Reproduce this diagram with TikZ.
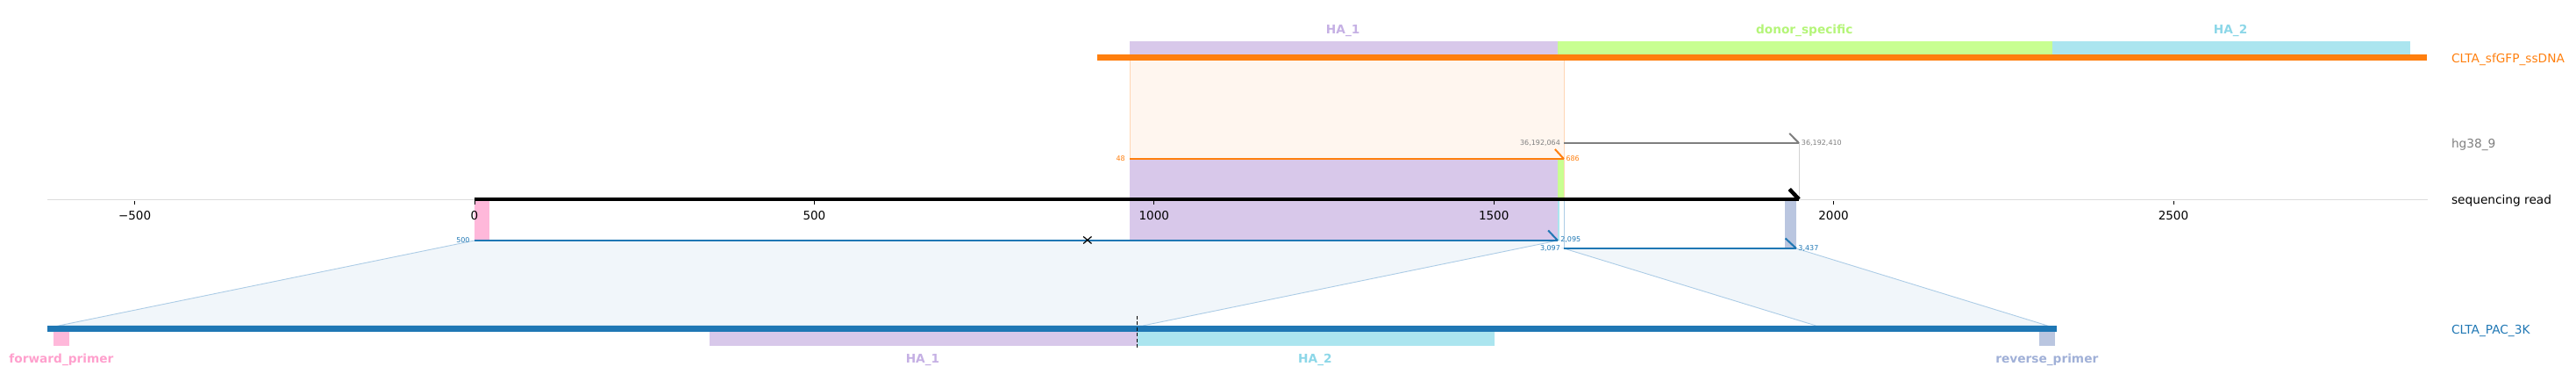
\documentclass[tikz,border=0pt]{standalone}
\usepackage{fontspec}
\setmainfont{DejaVu Sans}
\usetikzlibrary{positioning}
\definecolor{DonorOrange}{RGB}{255,127,14}
\definecolor{AmpBlue}{RGB}{31,119,180}
\definecolor{GenomeGray}{RGB}{127,127,127}
\definecolor{HAPurple}{RGB}{216,200,234}
\definecolor{HAPurpleText}{RGB}{197,176,228}
\definecolor{DonorGreen}{RGB}{200,255,145}
\definecolor{DonorGreenText}{RGB}{180,245,120}
\definecolor{HACyan}{RGB}{171,229,239}
\definecolor{HACyanText}{RGB}{140,215,232}
\definecolor{PrimerPink}{RGB}{255,184,218}
\definecolor{PrimerPinkText}{RGB}{255,160,205}
\definecolor{PrimerSlate}{RGB}{186,198,224}
\definecolor{PrimerSlateText}{RGB}{160,176,215}
\definecolor{SoftOrange}{RGB}{255,246,239}
\definecolor{EdgeOrange}{RGB}{255,214,180}
\definecolor{SoftBlue}{RGB}{241,246,250}
\definecolor{EdgeBlue}{RGB}{172,204,230}
\definecolor{AxisGray}{RGB}{220,220,220}

\begin{document}
\begin{tikzpicture}[x=0.7748pt,y=-1pt,
    ticklab/.style={font=\fontsize{13.5}{16}\selectfont,inner sep=0},
    tracklab/.style={font=\fontsize{13.7}{16}\selectfont,inner sep=0,anchor=west},
    featlab/.style={font=\bfseries\fontsize{13.7}{16}\selectfont,inner sep=0},
    coordlab/.style={font=\fontsize{8}{9}\selectfont,inner sep=0},
    hook/.style={line width=2pt}]
  \useasboundingbox (-698.3,0) rectangle (3092.5,442);
  % alignments of the amplicon onto the read
  \filldraw[fill=SoftBlue,draw=EdgeBlue,line width=0.9pt] (0,274)--(1594,274)--(983.5,371)--(-612,371)--cycle;
  \filldraw[fill=SoftBlue,draw=EdgeBlue,line width=0.9pt] (1603,283)--(1945,283)--(2314.8,371)--(1974,371)--cycle;
  \filldraw[fill=SoftOrange,draw=EdgeOrange,line width=0.8pt] (964,68) rectangle (1603,227);
  \fill[HAPurple] (964,181) rectangle (1594,274);
  \fill[DonorGreen] (1594,181) rectangle (1603,227);
  \fill[HACyan] (1594,227) rectangle (1597,274);
  \draw[EdgeBlue,line width=0.8pt] (1603,227)--(1603,283);
  \fill[PrimerPink] (0,229) rectangle (22,273);
  \fill[PrimerSlate] (1928,227) rectangle (1945,283);
  \draw[GenomeGray!35,line width=0.8pt] (1949,163)--(1949,227);
  % axis
  \draw[AxisGray,line width=0.8pt] (-628.5,227.5)--(2874,227.5);
  \foreach \t/\l [count=\i] in {-500/−500,0/0,500/500,1000/1000,1500/1500,2000/2000,2500/2500}{
    \draw[line width=0.8pt] (\t,229)--(\t,233.5);
    \node[ticklab] (tick\i) at (\t,245.5) {\l};
  }
  % donor track
  \fill[HAPurple] (964,47) rectangle (1594,62.3);
  \fill[DonorGreen] (1594,47) rectangle (2322,62.3);
  \fill[HACyan] (2322,47) rectangle (2848,62.3);
  \fill[DonorOrange] (916.4,62.3) rectangle (2873,68.7);
  \node[featlab,text=HAPurpleText] (ha1top) at (1278,35) {HA\_1};
  \node[featlab,text=DonorGreenText] (donortop) at (1957,35) {donor\_specific};
  \node[featlab,text=HACyanText] (ha2top) at (2584,35) {HA\_2};
  % read and mapped segments
  \draw[line width=4.5pt] (0,227)--(1949,227);
  \draw[line width=4.5pt] (1949,227)--++(-14,-11.5);
  \draw[GenomeGray,line width=2pt] (1603,163)--(1949,163);
  \draw[GenomeGray,hook] (1949,163)--++(-14,-11);
  \draw[DonorOrange,line width=2pt] (964,181)--(1603,181);
  \draw[DonorOrange,hook] (1603,181)--++(-13,-11);
  \draw[AmpBlue,line width=2pt] (0,274)--(1594,274);
  \draw[AmpBlue,hook] (1594,274)--++(-14,-11.5);
  \draw[AmpBlue,line width=2pt] (1603,283)--(1945,283);
  \draw[AmpBlue,hook] (1945,283)--++(-16,-11.5);
  \draw[line width=1.2pt] (896,269.5)--(908,277.5) (896,277.5)--(908,269.5);
  \node[coordlab,text=GenomeGray,anchor=east] (hgstart) at (1598,163) {36,192,064};
  \node[coordlab,text=GenomeGray,anchor=west] (hgend) at (1952.5,163) {36,192,410};
  \node[coordlab,text=DonorOrange,anchor=east] (ssstart) at (957.6,181) {48};
  \node[coordlab,text=DonorOrange,anchor=west] (ssend) at (1606,181) {686};
  \node[coordlab,text=AmpBlue,anchor=east] (ampstartA) at (-6.8,273.5) {500};
  \node[coordlab,text=AmpBlue,anchor=west] (ampendA) at (1598,273) {2,095};
  \node[coordlab,text=AmpBlue,anchor=east] (ampstartB) at (1598,283.5) {3,097};
  \node[coordlab,text=AmpBlue,anchor=west] (ampendB) at (1948,283.5) {3,437};
  % amplicon track
  \fill[AmpBlue] (-628.5,371) rectangle (2329,377.7);
  \fill[PrimerPink] (-619.5,377.7) rectangle (-595.9,393.7);
  \fill[HAPurple] (345.6,377.7) rectangle (975.1,393.7);
  \fill[HACyan] (975.1,377.7) rectangle (1500.5,393.7);
  \fill[PrimerSlate] (2303,377.7) rectangle (2325.8,393.7);
  \draw[dashed,line width=0.9pt,dash pattern=on 4pt off 2.5pt] (975.1,360)--(975.1,398);
  \node[featlab,text=PrimerPinkText] (fwd) at (-608,410) {forward\_primer};
  \node[featlab,text=HAPurpleText] (ha1bot) at (659.5,410) {HA\_1};
  \node[featlab,text=HACyanText] (ha2bot) at (1237,410) {HA\_2};
  \node[featlab,text=PrimerSlateText] (rev) at (2314,410) {reverse\_primer};
  % track names
  \node[tracklab,text=DonorOrange] (ssdna) at (2909,67.5) {CLTA\_sfGFP\_ssDNA};
  \node[tracklab,text=GenomeGray] (genome) at (2909,165) {hg38\_9};
  \node[tracklab] (read) at (2909,229) {sequencing read};
  \node[tracklab,text=AmpBlue] (amplicon) at (2909,377) {CLTA\_PAC\_3K};
\end{tikzpicture}
\end{document}
